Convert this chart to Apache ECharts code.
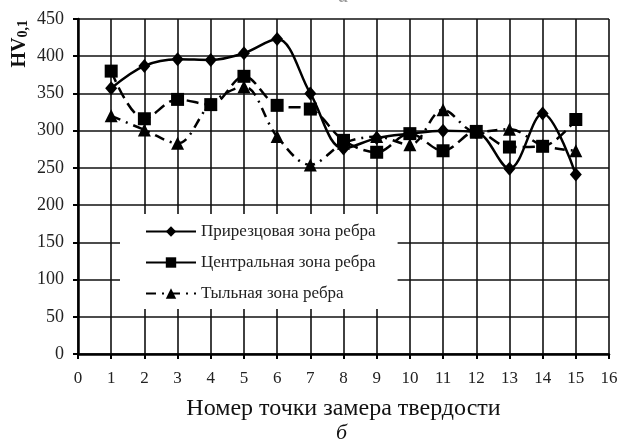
<!DOCTYPE html>
<html>
<head>
<meta charset="utf-8">
<script src="https://cdn.jsdelivr.net/npm/echarts@6/dist/echarts.min.js"></script>
<style>html,body{margin:0;padding:0;background:#fff}#c{width:622px;height:443px}</style>
</head>
<body>
<div id="c"></div>
<script>
const points = [1,2,3,4,5,6,7,8,9,10,11,12,13,14,15];
const seriesNames = ['Прирезцовая зона ребра','Центральная зона ребра','Тыльная зона ребра'];
const cutterZone = [357,387,396,395,404,423,350,276,290,296,300,298,249,323,241];
const centralZone = [380,316,342,335,373,334,329,287,271,296,273,299,278,279,315];
const backZone = [320,301,283,336,359,292,254,283,292,281,328,298,302,280,273];
const xTicks = {min:0,max:16,interval:1};
const yTicks = {min:0,max:450,interval:50};
const xTitle = 'Номер точки замера твердости';
const subCaption = 'б';
const topCaption = 'а';

const FONT = '"Liberation Serif","Times New Roman",serif';
const chart = echarts.init(document.getElementById('c'));
const mk = arr => points.map((p,i)=>[p,arr[i]]);
chart.setOption({
  animation:false,
  backgroundColor:'#fff',
  grid:{left:78,right:13,top:19,bottom:89,containLabel:false},
  xAxis:{type:'value',min:xTicks.min,max:xTicks.max,interval:xTicks.interval,
    name:xTitle,nameLocation:'middle',nameGap:43,
    nameTextStyle:{fontFamily:FONT,fontSize:24,color:'#111'},
    axisLine:{lineStyle:{color:'#000',width:2.5}},
    axisTick:{show:true,length:5,lineStyle:{color:'#000',width:2}},
    axisLabel:{fontFamily:FONT,fontSize:17,color:'#222',margin:16},
    splitLine:{show:true,lineStyle:{color:'#111',width:1.6}}},
  yAxis:{type:'value',min:yTicks.min,max:yTicks.max,interval:yTicks.interval,
    axisLine:{show:true,lineStyle:{color:'#000',width:2.5}},
    axisTick:{show:true,length:5,lineStyle:{color:'#000',width:2}},
    axisLabel:{fontFamily:FONT,fontSize:18,color:'#222',margin:14},
    splitLine:{show:true,lineStyle:{color:'#111',width:1.6}}},
  legend:{orient:'vertical',left:120,top:214,itemWidth:50,itemHeight:13,itemGap:14,
    padding:[9,22,7,25],backgroundColor:'#fff',
    textStyle:{fontFamily:FONT,fontSize:17,color:'#222'},
    data:[{name:seriesNames[0]},{name:seriesNames[1],lineStyle:{type:'solid'}},{name:seriesNames[2]}]},
  graphic:[
    {type:'text',left:10,top:20,rotation:Math.PI/2,
      style:{text:'{a|HV}{b|0,1}',rich:{a:{fontFamily:FONT,fontSize:20,fontWeight:'bold',fill:'#111',verticalAlign:'bottom'},b:{fontFamily:FONT,fontSize:14,fontWeight:'bold',fill:'#111',verticalAlign:'bottom'}}}},
    {type:'text',left:336,top:422,style:{text:subCaption,fontFamily:FONT,fontSize:22,fontStyle:'italic',fill:'#111'}},
    {type:'text',left:338,top:-15,style:{text:topCaption,fontFamily:FONT,fontSize:22,fontStyle:'italic',fill:'#999'}}
  ],
  series:[
    {name:seriesNames[0],type:'line',data:mk(cutterZone),smooth:0.35,symbol:'diamond',symbolSize:[12,14],
      lineStyle:{color:'#000',width:2.5},itemStyle:{color:'#000'},z:3},
    {name:seriesNames[1],type:'line',data:mk(centralZone),smooth:0.35,symbol:'rect',symbolSize:13,
      lineStyle:{color:'#000',width:2.5,type:[12,6]},itemStyle:{color:'#000'},z:2},
    {name:seriesNames[2],type:'line',data:mk(backZone),smooth:0.35,symbol:'triangle',symbolSize:13,
      lineStyle:{color:'#000',width:2.5,type:[10,6,2,6]},itemStyle:{color:'#000'},z:1}
  ]
});
</script>
</body>
</html>
